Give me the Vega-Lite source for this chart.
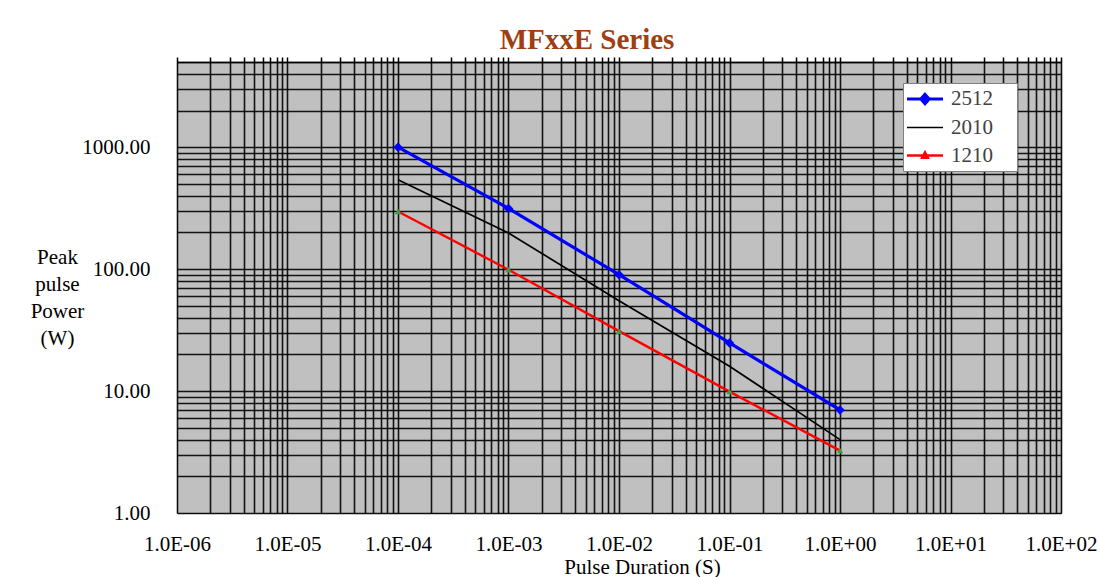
{
  "$schema": "https://vega.github.io/schema/vega-lite/v6.json",
  "width": 884,
  "height": 451,
  "autosize": {"type": "none"},
  "padding": {"left": 177, "top": 62, "right": 38, "bottom": 64},
  "background": "white",
  "title": {
    "text": "MFxxE Series",
    "font": "Liberation Serif",
    "fontWeight": "bold",
    "fontSize": 29,
    "color": "#9e3e12",
    "anchor": "middle",
    "dx": -32,
    "dy": 35,
    "baseline": "alphabetic",
    "offset": 8
  },
  "config": {
    "view": {"fill": "#c0c0c0", "stroke": "#808080", "strokeWidth": 1},
    "font": "Liberation Serif"
  },
  "data": {
    "values": [
      {"series": "2512", "t": 0.0001, "p": 1000},
      {"series": "2512", "t": 0.001, "p": 315},
      {"series": "2512", "t": 0.01, "p": 90},
      {"series": "2512", "t": 0.1, "p": 24.8},
      {"series": "2512", "t": 1, "p": 7},
      {"series": "2010", "t": 0.0001, "p": 540},
      {"series": "2010", "t": 0.001, "p": 198},
      {"series": "2010", "t": 0.01, "p": 55},
      {"series": "2010", "t": 0.1, "p": 16},
      {"series": "2010", "t": 1, "p": 4},
      {"series": "1210", "t": 0.0001, "p": 297},
      {"series": "1210", "t": 0.001, "p": 99},
      {"series": "1210", "t": 0.01, "p": 31},
      {"series": "1210", "t": 0.1, "p": 9.9},
      {"series": "1210", "t": 1, "p": 3.25}
    ]
  },
  "resolve": {"axis": {"x": "independent"}},
  "layer": [
    {
      "mark": {"type": "line", "interpolate": "linear"},
      "encoding": {
        "x": {
          "field": "t", "type": "quantitative",
          "scale": {"type": "log", "domain": [0.000001, 100], "nice": false},
          "axis": {
            "orient": "bottom",
            "values": [0.000001,0.000002,0.000003,0.000004,0.000005,0.000006,0.000007,0.000008,0.000009,
                       0.00001,0.00002,0.00003,0.00004,0.00005,0.00006,0.00007,0.00008,0.00009,
                       0.0001,0.0002,0.0003,0.0004,0.0005,0.0006,0.0007,0.0008,0.0009,
                       0.001,0.002,0.003,0.004,0.005,0.006,0.007,0.008,0.009,
                       0.01,0.02,0.03,0.04,0.05,0.06,0.07,0.08,0.09,
                       0.1,0.2,0.3,0.4,0.5,0.6,0.7,0.8,0.9,
                       1,2,3,4,5,6,7,8,9,
                       10,20,30,40,50,60,70,80,90,100],
            "labelExpr": "abs(log(datum.value)/LN10 - round(log(datum.value)/LN10)) < 0.01 ? '1.0E' + (round(log(datum.value)/LN10) < 0 ? '-' : '+') + (abs(round(log(datum.value)/LN10)) < 10 ? '0' : '') + abs(round(log(datum.value)/LN10)) : ''",
            "labelFont": "Liberation Serif",
            "labelFontSize": 21,
            "labelColor": "#000",
            "labelPadding": 20,
            "labelOverlap": false,
            "labelFlush": false,
            "ticks": false,
            "domain": false,
            "grid": true,
            "gridColor": "#000",
            "gridWidth": 1.6,
            "gridOpacity": 0.9,
            "title": "Pulse Duration (S)",
            "titleFont": "Liberation Serif",
            "titleFontSize": 21,
            "titleFontWeight": "normal",
            "titleColor": "#000",
            "titleX": 465,
            "titleY": 54,
            "titleBaseline": "middle"
          }
        },
        "y": {
          "field": "p", "type": "quantitative",
          "scale": {"type": "log", "domain": [1, 5000], "nice": false},
          "axis": {
            "values": [1,2,3,4,5,6,7,8,9,10,20,30,40,50,60,70,80,90,100,200,300,400,500,600,700,800,900,1000,2000,3000,4000,5000],
            "labelExpr": "abs(log(datum.value)/LN10 - round(log(datum.value)/LN10)) < 0.01 && datum.value < 4000 ? format(datum.value, '.2f') : ''",
            "labelFont": "Liberation Serif",
            "labelFontSize": 21,
            "labelColor": "#000",
            "labelPadding": 27,
            "labelOverlap": false,
            "labelFlush": false,
            "ticks": false,
            "domain": false,
            "grid": true,
            "gridColor": "#000",
            "gridWidth": 1.6,
            "gridOpacity": 0.9,
            "title": ["Peak", "pulse", "Power", "(W)"],
            "titleFont": "Liberation Serif",
            "titleFontSize": 21,
            "titleFontWeight": "normal",
            "titleColor": "#000",
            "titleAngle": 0,
            "titleAlign": "center",
            "titleBaseline": "top",
            "titleLineHeight": 27,
            "titleX": -120,
            "titleY": 184
          }
        },
        "stroke": {
          "field": "series", "type": "nominal",
          "scale": {"domain": ["2512", "2010", "1210"], "range": ["#0000ff", "#000000", "#ff0000"]},
          "legend": {
            "title": ".",
            "titleColor": "#ffffff",
            "titleFontSize": 8,
            "titleOrient": "right",
            "titlePadding": 17,
            "orient": "none",
            "legendX": 726,
            "legendY": 21,
            "fillColor": "#ffffff",
            "strokeColor": "#808080",
            "padding": 5,
            "symbolType": "M-2,0L2,0",
            "symbolSize": 324,
            "symbolOffset": 6,
            "symbolStrokeWidth": 2,
            "labelFont": "Liberation Serif",
            "labelFontSize": 21,
            "labelColor": "#404040",
            "labelOffset": 15,
            "rowPadding": 6,
            "encode": {
              "symbols": {
                "update": {
                  "shape": {"signal": "datum.value === '2512' ? 'M-2,0L2,0M0,-0.5L0.45,0L0,0.5L-0.45,0Z' : datum.value === '1210' ? 'M-2,0L2,0M0,-0.35L0.32,0.25L-0.32,0.25Z' : 'M-2,0L2,0'"},
                  "fill": {"signal": "datum.value === '2512' ? '#0000ff' : datum.value === '1210' ? '#3c9c46' : 'transparent'"},
                  "strokeWidth": {"signal": "datum.value === '2512' ? 3 : 2"}
                }
              }
            }
          }
        },
        "strokeWidth": {
          "field": "series", "type": "nominal",
          "scale": {"type": "ordinal", "domain": ["2512", "2010", "1210"], "range": [3.2, 1.7, 2.4]},
          "legend": null
        }
      }
    },
    {
      "transform": [{"filter": "datum.series !== '2010'"}],
      "mark": {"type": "point", "filled": true, "opacity": 1},
      "encoding": {
        "x": {"field": "t", "type": "quantitative", "axis": null},
        "y": {"field": "p", "type": "quantitative"},
        "fill": {
          "field": "series", "type": "nominal",
          "scale": {"domain": ["2512", "1210"], "range": ["#0000ff", "#3c9c46"]},
          "legend": null
        },
        "shape": {
          "field": "series", "type": "nominal",
          "scale": {"domain": ["2512", "1210"], "range": ["diamond", "triangle-up"]},
          "legend": null
        },
        "size": {
          "field": "series", "type": "nominal",
          "scale": {"type": "ordinal", "domain": ["2512", "1210"], "range": [90, 40]},
          "legend": null
        }
      }
    },
    {
      "mark": {"type": "point", "opacity": 0},
      "encoding": {
        "x": {
          "field": "t", "type": "quantitative",
          "axis": {
            "orient": "top",
            "values": [0.000001,0.000002,0.000003,0.000004,0.000005,0.000006,0.000007,0.000008,0.000009,
                       0.00001,0.00002,0.00003,0.00004,0.00005,0.00006,0.00007,0.00008,0.00009,
                       0.0001,0.0002,0.0003,0.0004,0.0005,0.0006,0.0007,0.0008,0.0009,
                       0.001,0.002,0.003,0.004,0.005,0.006,0.007,0.008,0.009,
                       0.01,0.02,0.03,0.04,0.05,0.06,0.07,0.08,0.09,
                       0.1,0.2,0.3,0.4,0.5,0.6,0.7,0.8,0.9,
                       1,2,3,4,5,6,7,8,9,
                       10,20,30,40,50,60,70,80,90,100],
            "labels": false,
            "ticks": true,
            "tickSize": 5,
            "tickColor": "#000",
            "tickWidth": 1.5,
            "domain": true,
            "domainColor": "#000",
            "domainWidth": 1.5,
            "grid": false,
            "title": null
          }
        },
        "y": {"field": "p", "type": "quantitative"}
      }
    }
  ]
}
